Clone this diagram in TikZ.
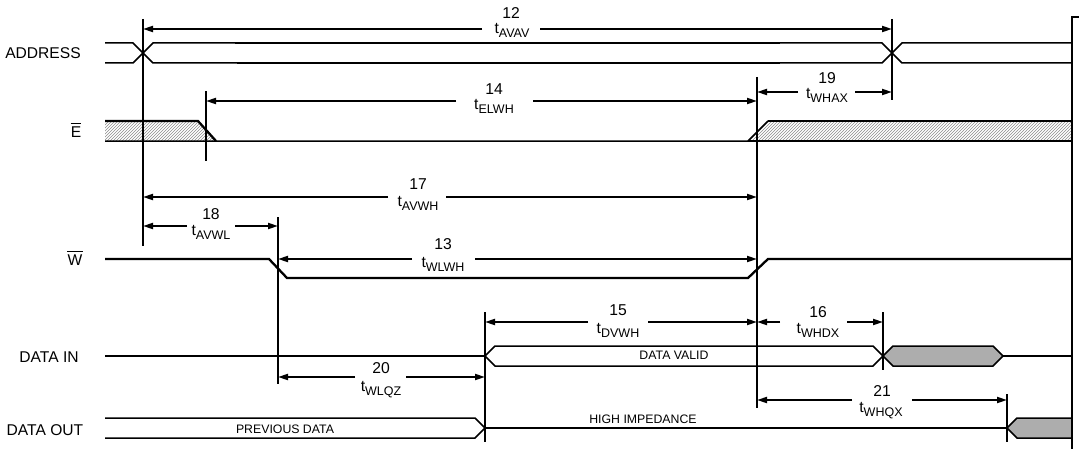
\documentclass[tikz,border=0pt]{standalone}
\usepackage{fontspec}
\setmainfont{Liberation Sans}
\usetikzlibrary{arrows.meta,patterns}
\newcommand{\tsub}[1]{t\raisebox{-4pt}{\fontsize{12.5}{13}\selectfont #1}}
\begin{document}
\begin{tikzpicture}[x=1pt,y=-1pt,
  sig/.style={line width=1.5pt,line join=miter},
  heavy/.style={line width=2.3pt},
  vline/.style={line width=1.8pt},
  bar/.style={line width=1.3pt},
  dimtip/.style={line width=1.8pt,-{Triangle[length=10pt,width=6pt]}},
  numlab/.style={font=\fontsize{15.7}{16}\selectfont,anchor=base,inner sep=0pt},
  sname/.style={font=\fontsize{15.6}{16}\selectfont,anchor=base,inner sep=0pt},
  small/.style={font=\fontsize{12.3}{13}\selectfont,anchor=base,inner sep=0pt},
  hatchE/.style={pattern=north east lines,pattern color=black!45},
  xhatch/.style={fill=black!32}
]
\useasboundingbox (0,0) rectangle (1079,452);

% ---------- signal names
\node[sname] (nAddr) at (43,59) {ADDRESS};
\node[sname] (nE) at (76,137) {E};
\node[sname] (nW) at (75,265) {W};
\draw[bar] ([yshift=2.5pt]nE.north west) -- ([yshift=2.5pt]nE.north east);
\draw[bar] ([yshift=2.5pt]nW.north west) -- ([yshift=2.5pt]nW.north east);
\node[sname] (nDin) at (49,362) {DATA IN};
\node[sname] (nDout) at (45,435) {DATA OUT};

% ---------- hatched areas
\fill[hatchE] (105,121) -- (198,121) -- (216,141) -- (105,141) -- cycle;
\fill[hatchE] (768,121) -- (1072,121) -- (1072,141) -- (748,141) -- cycle;
\fill[xhatch] (883,356) -- (893,346) -- (993,346) -- (1003,356) -- (993,366) -- (893,366) -- cycle;
\fill[xhatch] (1072,418) -- (1017,418) -- (1007,428) -- (1017,438) -- (1072,438) -- cycle;

% ---------- ADDRESS
\draw[sig] (105,43) -- (133,43) -- (153,63) -- (882,63) -- (902,43) -- (1072,43);
\draw[sig] (105,63) -- (133,63) -- (153,43) -- (882,43) -- (902,63) -- (1072,63);
\draw[heavy] (235,43) -- (780,43);
\draw[heavy] (237,63) -- (780,63);

% ---------- E
\draw[heavy] (105,121) -- (198,121) -- (216,141);
\draw[sig] (105,141) -- (748,141) -- (768,121);
\draw[heavy] (768,121) -- (1072,121);
\draw[heavy] (748,141) -- (1072,141);

% ---------- W
\draw[heavy] (105,259) -- (269,259) -- (287,278) -- (748,278) -- (768,259) -- (1072,259);

% ---------- DATA IN
\draw[sig] (105,356) -- (485,356);
\draw[sig] (485,356) -- (495,346) -- (873,346) -- (883,356) -- (873,366) -- (495,366) -- cycle;
\draw[sig] (883,356) -- (893,346) -- (993,346) -- (1003,356) -- (993,366) -- (893,366) -- cycle;
\draw[heavy] (1003,356) -- (1072,356);
\node[small] (tValid) at (674,359) {DATA VALID};

% ---------- DATA OUT
\draw[sig] (105,418) -- (475,418) -- (485,428) -- (475,438) -- (105,438);
\draw[heavy] (485,428) -- (1007,428);
\draw[sig] (1072,418) -- (1017,418) -- (1007,428) -- (1017,438) -- (1072,438);
\node[small] (tPrev) at (285,433) {PREVIOUS DATA};
\node[small] (tHighZ) at (643,423) {HIGH IMPEDANCE};

% ---------- vertical reference lines
\coordinate (vAt) at (143,19);  \coordinate (vAb) at (143,246);
\coordinate (vEt) at (206,91);  \coordinate (vEb) at (206,161);
\coordinate (vXt) at (892,19);  \coordinate (vXb) at (892,100);
\coordinate (vWt) at (757,77);  \coordinate (vWb) at (757,408);
\coordinate (vLt) at (278,217); \coordinate (vLb) at (278,384);
\coordinate (vDt) at (485,312); \coordinate (vDb) at (485,442);
\coordinate (vPt) at (883,312); \coordinate (vPb) at (883,370);
\coordinate (vQt) at (1007,394);\coordinate (vQb) at (1007,442);
\coordinate (bT) at (1079,17); \coordinate (bC) at (1072,17); \coordinate (bB) at (1072,449);
\draw[vline] (vAt) -- (vAb);
\draw[vline] (vEt) -- (vEb);
\draw[vline] (vXt) -- (vXb);
\draw[vline] (vWt) -- (vWb);
\draw[vline] (vLt) -- (vLb);
\draw[vline] (vDt) -- (vDb);
\draw[vline] (vPt) -- (vPb);
\draw[vline] (vQt) -- (vQb);
\draw[vline] (bT) -- (bC) -- (bB);

% ---------- dimension arrows
% 12
\coordinate (a12l) at (143,29); \coordinate (a12r) at (892,29);
\coordinate (g12l) at (482,29); \coordinate (g12r) at (540,29);
\draw[dimtip] (g12l) -- (a12l); \draw[dimtip] (g12r) -- (a12r);
\node[numlab] (n12) at (511,19) {12};
\node[numlab] (t12) at (512,34) {\tsub{AVAV}};
% 14
\coordinate (a14l) at (206,101); \coordinate (a14r) at (757,101);
\coordinate (g14l) at (456,101); \coordinate (g14r) at (533,101);
\draw[dimtip] (g14l) -- (a14l); \draw[dimtip] (g14r) -- (a14r);
\node[numlab] (n14) at (494,94) {14};
\node[numlab] (t14) at (494,110) {\tsub{ELWH}};
% 19
\coordinate (a19l) at (757,92); \coordinate (a19r) at (892,92);
\coordinate (g19l) at (798,92); \coordinate (g19r) at (855,92);
\draw[dimtip] (g19l) -- (a19l); \draw[dimtip] (g19r) -- (a19r);
\node[numlab] (n19) at (827,83) {19};
\node[numlab] (t19) at (827,99) {\tsub{WHAX}};
% 17
\coordinate (a17l) at (143,197); \coordinate (a17r) at (757,197);
\coordinate (g17l) at (388,197); \coordinate (g17r) at (446,197);
\draw[dimtip] (g17l) -- (a17l); \draw[dimtip] (g17r) -- (a17r);
\node[numlab] (n17) at (418,189) {17};
\node[numlab] (t17) at (418,206) {\tsub{AVWH}};
% 18
\coordinate (a18l) at (143,226); \coordinate (a18r) at (278,226);
\coordinate (g18l) at (187,226); \coordinate (g18r) at (235,226);
\draw[dimtip] (g18l) -- (a18l); \draw[dimtip] (g18r) -- (a18r);
\node[numlab] (n18) at (211,219) {18};
\node[numlab] (t18) at (211,235) {\tsub{AVWL}};
% 13
\coordinate (a13l) at (278,259); \coordinate (a13r) at (757,259);
\coordinate (g13l) at (412,259); \coordinate (g13r) at (475,259);
\draw[dimtip] (g13l) -- (a13l); \draw[dimtip] (g13r) -- (a13r);
\node[numlab] (n13) at (443,249) {13};
\node[numlab] (t13) at (443,267) {\tsub{WLWH}};
% 15
\coordinate (a15l) at (485,322); \coordinate (a15r) at (757,322);
\coordinate (g15l) at (588,322); \coordinate (g15r) at (648,322);
\draw[dimtip] (g15l) -- (a15l); \draw[dimtip] (g15r) -- (a15r);
\node[numlab] (n15) at (618,315) {15};
\node[numlab] (t15) at (618,333) {\tsub{DVWH}};
% 16
\coordinate (a16l) at (757,322); \coordinate (a16r) at (883,322);
\coordinate (g16l) at (780,322); \coordinate (g16r) at (847,322);
\draw[dimtip] (g16l) -- (a16l); \draw[dimtip] (g16r) -- (a16r);
\node[numlab] (n16) at (818,317) {16};
\node[numlab] (t16) at (818,333) {\tsub{WHDX}};
% 20
\coordinate (a20l) at (278,377); \coordinate (a20r) at (485,377);
\coordinate (g20l) at (355,377); \coordinate (g20r) at (406,377);
\draw[dimtip] (g20l) -- (a20l); \draw[dimtip] (g20r) -- (a20r);
\node[numlab] (n20) at (381,373) {20};
\node[numlab] (t20) at (381,391) {\tsub{WLQZ}};
% 21
\coordinate (a21l) at (757,400); \coordinate (a21r) at (1007,400);
\coordinate (g21l) at (852,400); \coordinate (g21r) at (912,400);
\draw[dimtip] (g21l) -- (a21l); \draw[dimtip] (g21r) -- (a21r);
\node[numlab] (n21) at (882,396) {21};
\node[numlab] (t21) at (881,412) {\tsub{WHQX}};
\end{tikzpicture}
\end{document}
